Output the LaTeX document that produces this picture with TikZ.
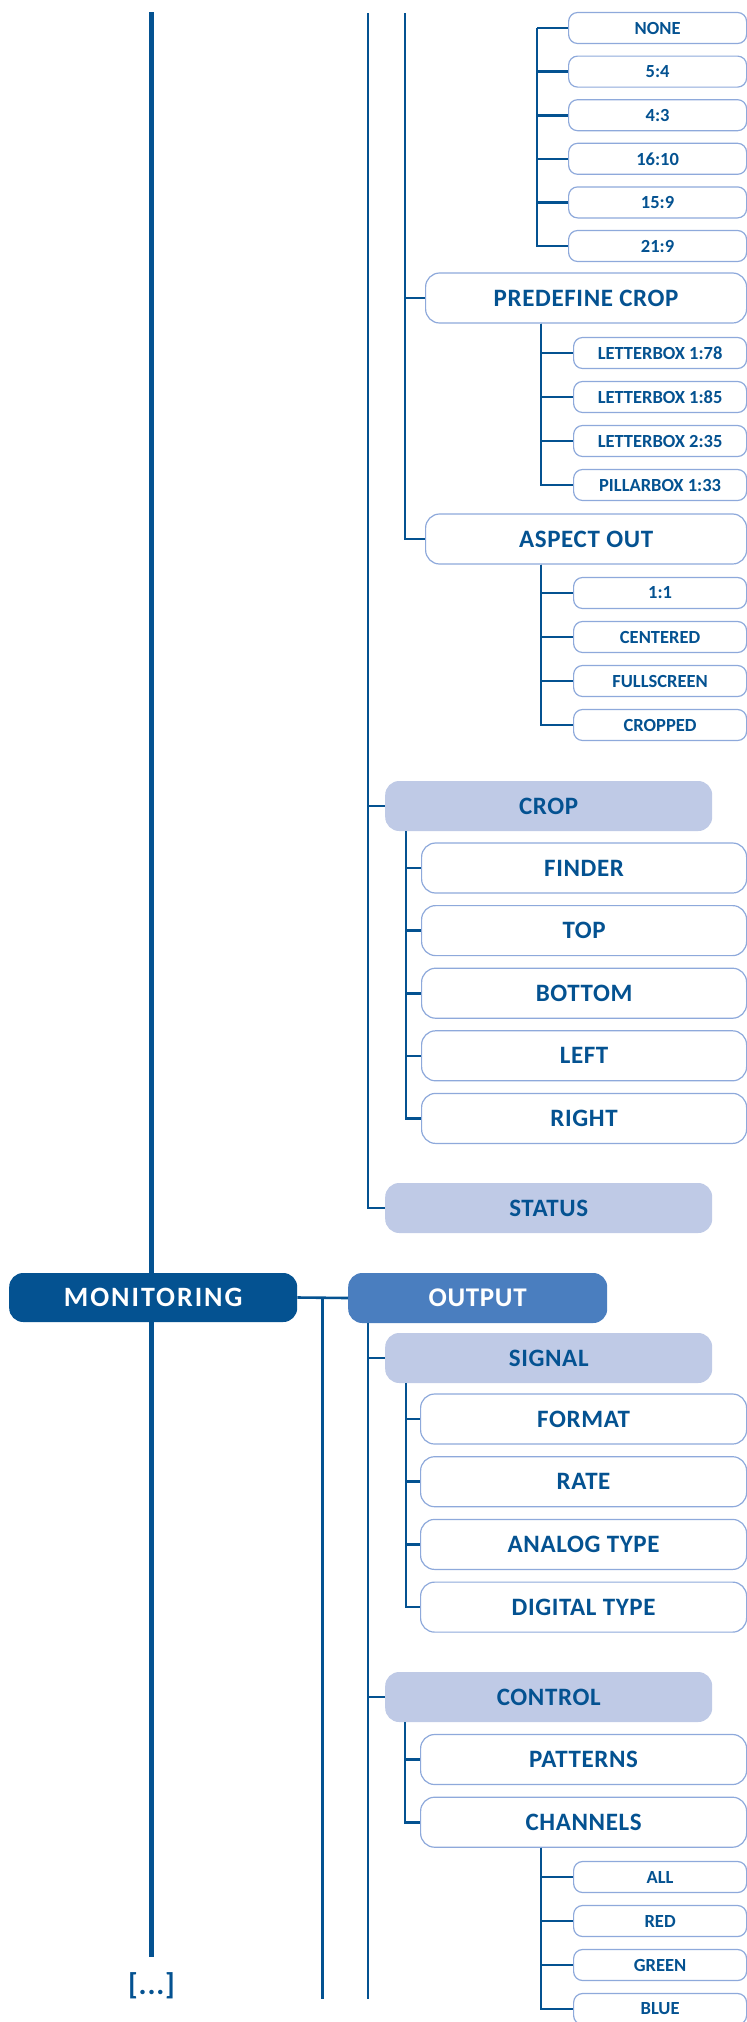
\documentclass[tikz,border=0pt]{standalone}
\usepackage{fontspec}
\setmainfont{Carlito}[LetterSpace=2.5]
\usetikzlibrary{calc}
\definecolor{navy}{RGB}{4,82,145}
\definecolor{midblue}{RGB}{74,126,191}
\definecolor{paleblue}{RGB}{191,202,230}
\definecolor{edgeblue}{RGB}{142,169,219}

\begin{document}
\begin{tikzpicture}[x=1pt, y=-1pt,
    link/.style={navy, line width=2.6pt},
    trunk/.style={navy, line width=5pt},
    leafbox/.style={rectangle, draw=edgeblue, fill=white, line width=1.2pt,
        rounded corners=9pt, anchor=west, inner sep=0pt, minimum height=31pt,
        minimum width=173pt, text=navy,
        font=\fontsize{18.5}{18.5}\selectfont\bfseries\addfontfeature{LetterSpace=0}},
    itembox/.style={leafbox, rounded corners=14pt, minimum height=50pt,
        minimum width=326pt, font=\fontsize{25}{25}\selectfont\bfseries},
    groupbox/.style={rectangle, fill=paleblue, rounded corners=14pt, anchor=west,
        inner sep=0pt, minimum height=50pt, minimum width=327pt, text=navy,
        font=\fontsize{25}{25}\selectfont\bfseries},
    headbox/.style={groupbox, fill=midblue, text=white, minimum width=259pt,
        font=\fontsize{27}{27}\selectfont\bfseries},
    rootbox/.style={headbox, fill=navy, minimum width=288pt, minimum height=49pt,
        font=\fontsize{28}{28}\selectfont\bfseries\addfontfeature{LetterSpace=7}}]
    \useasboundingbox (0,0) rectangle (747,2022);

    \coordinate (trunktop) at (151.5,12);
    \coordinate (trunkend) at (151.5,1957);
    \draw[trunk] (trunktop) -- (trunkend);
    \node[text=navy, font=\fontsize{30}{30}\selectfont\bfseries, inner sep=0pt]
        (more) at (151.5,1986) {[...]};

    \foreach \t [count=\i] in {NONE, 5:4, 4:3, 16:10, 15:9, 21:9}
        \node[leafbox, minimum width=178pt] (ar\i) at (568, {28+43.6*(\i-1)}) {\t};
    \node[itembox, minimum width=321pt] (pc) at (425,298) {PREDEFINE CROP};
    \foreach \t [count=\i] in {LETTERBOX 1:78, LETTERBOX 1:85, LETTERBOX 2:35, PILLARBOX 1:33}
        \node[leafbox] (lb\i) at (573, {353+44*(\i-1)}) {\t};
    \node[itembox, minimum width=321pt] (aspect) at (425,539) {ASPECT OUT};
    \foreach \t [count=\i] in {1:1, CENTERED, FULLSCREEN, CROPPED}
        \node[leafbox] (as\i) at (573, {593+44*(\i-1)}) {\t};

    \node[groupbox] (crop) at (385,806) {CROP};
    \foreach \t [count=\i] in {FINDER, TOP, BOTTOM, LEFT, RIGHT}
        \node[itembox, minimum width=325pt] (cr\i) at (421, {868+62.6*(\i-1)}) {\t};
    \node[groupbox] (status) at (385,1208) {STATUS};

    \node[rootbox] (mon) at (9,1297.5) {MONITORING};
    \node[headbox] (out) at (348,1298) {OUTPUT};
    \node[groupbox] (signal) at (385,1358) {SIGNAL};
    \foreach \t [count=\i] in {FORMAT, RATE, ANALOG TYPE, DIGITAL TYPE}
        \node[itembox] (sg\i) at (420, {1419+62.7*(\i-1)}) {\t};
    \node[groupbox] (control) at (385,1697) {CONTROL};
    \foreach \t [count=\i] in {PATTERNS, CHANNELS}
        \node[itembox] (ct\i) at (420, {1759.5+62.7*(\i-1)}) {\t};
    \foreach \t [count=\i] in {ALL, RED, GREEN, BLUE}
        \node[leafbox] (ch\i) at (573, {1877+44*(\i-1)}) {\t};

    \coordinate (topA) at (368,13);
    \coordinate (topB) at (405,13);
    \coordinate (cut) at (0,1999);

    \coordinate (arfork) at ($(ar1.west)+(-31,0)$);
    \foreach \i in {1,...,6}
        \draw[link] (arfork) |- (ar\i.west);
    \draw[link] (topB) |- (pc.west);
    \draw[link] (topB) |- (aspect.west);
    \coordinate (pcfork) at ($(pc.south west)+(116,0)$);
    \foreach \i in {1,...,4}
        \draw[link] (pcfork) |- (lb\i.west);
    \coordinate (asfork) at ($(aspect.south west)+(116,0)$);
    \foreach \i in {1,...,4}
        \draw[link] (asfork) |- (as\i.west);

    \draw[link] (topA) |- (crop.west);
    \draw[link] (topA) |- (status.west);
    \coordinate (crfork) at ($(crop.south west)+(21,0)$);
    \foreach \i in {1,...,5}
        \draw[link] (crfork) |- (cr\i.west);

    \draw[link] (mon.east) -- (out.west);
    \coordinate (monfork) at ($(mon.east)+(25,0)$);
    \draw[link] (monfork) -- (monfork |- cut);
    \coordinate (outfork) at ($(out.south west)+(20,0)$);
    \draw[link] (outfork) -- (outfork |- cut);
    \draw[link] (outfork) |- (signal.west);
    \draw[link] (outfork) |- (control.west);
    \coordinate (sgfork) at ($(signal.south west)+(21,0)$);
    \foreach \i in {1,...,4}
        \draw[link] (sgfork) |- (sg\i.west);
    \coordinate (ctfork) at ($(control.south west)+(20,0)$);
    \foreach \i in {1,2}
        \draw[link] (ctfork) |- (ct\i.west);
    \coordinate (chfork) at ($(ct2.south west)+(121,0)$);
    \foreach \i in {1,...,4}
        \draw[link] (chfork) |- (ch\i.west);
\end{tikzpicture}
\end{document}
